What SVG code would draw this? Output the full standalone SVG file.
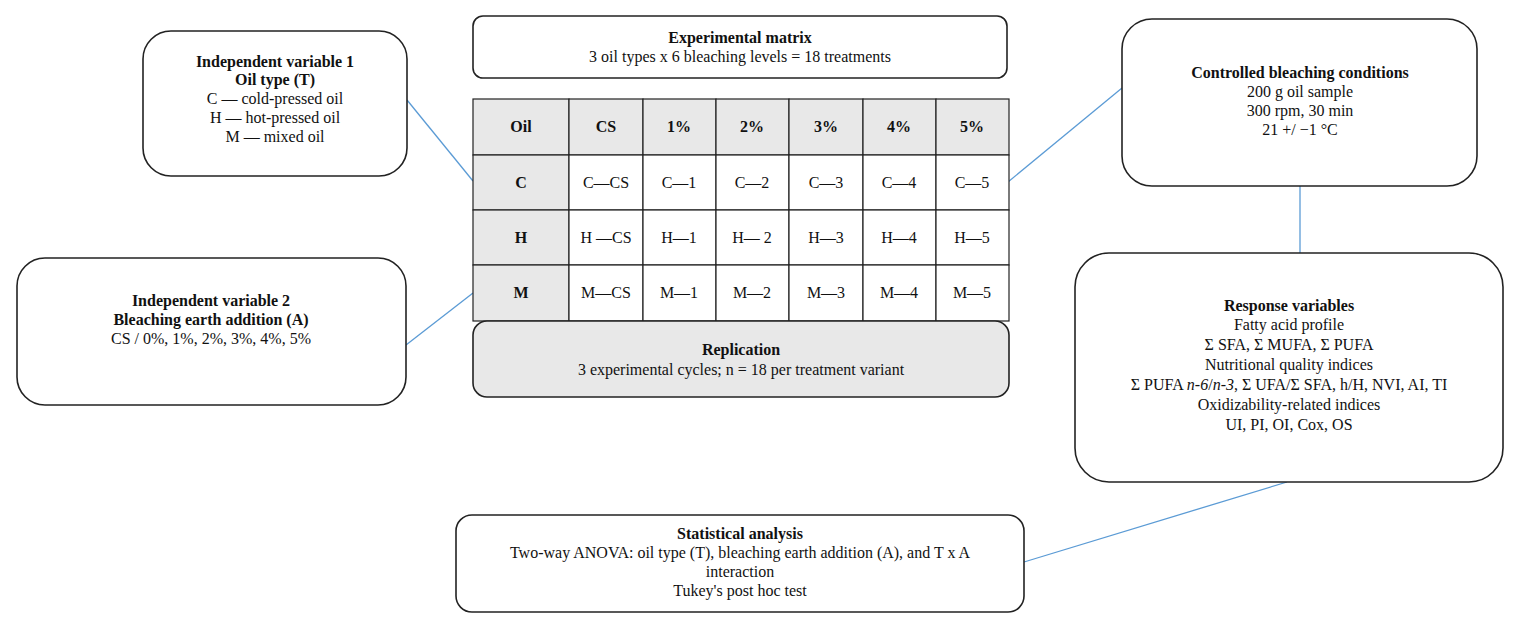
<svg xmlns="http://www.w3.org/2000/svg" width="1518" height="631" viewBox="0 0 1518 631">
<style>
text{font-family:'Liberation Serif','Times New Roman','DejaVu Serif',serif;font-size:16px;fill:#111;text-anchor:middle}
.b{font-weight:bold}
.box{fill:#fff;stroke:#222;stroke-width:1.6}
.gbox{fill:#e8e8e8;stroke:#222;stroke-width:1.6}
.cell{fill:#fff;stroke:#222;stroke-width:1.2}
.hcell{fill:#e8e8e8;stroke:#222;stroke-width:1.2}
.con{stroke:#5b9bd5;stroke-width:1.3;fill:none}
</style>
<rect width="1518" height="631" fill="#fff"/>
<g id="connectors">
<line class="con" x1="407" y1="100" x2="473" y2="181"/>
<line class="con" x1="406" y1="345" x2="473" y2="293"/>
<line class="con" x1="1008" y1="182" x2="1122" y2="88"/>
<line class="con" x1="1300" y1="186" x2="1300" y2="253"/>
<line class="con" x1="1287" y1="482" x2="1024" y2="562"/>
</g>
<g id="iv1">
<rect class="box" x="143" y="31" width="264" height="145" rx="28"/>
<text class="b" x="275" y="67">Independent variable 1</text>
<text class="b" x="275" y="85">Oil type (T)</text>
<text x="275" y="104">C — cold-pressed oil</text>
<text x="275" y="123">H — hot-pressed oil</text>
<text x="275" y="142">M — mixed oil</text>
</g>
<g id="iv2">
<rect class="box" x="17" y="258" width="389" height="147" rx="28"/>
<text class="b" x="211" y="306">Independent variable 2</text>
<text class="b" x="211" y="325">Bleaching earth addition (A)</text>
<text x="211" y="344">CS / 0%, 1%, 2%, 3%, 4%, 5%</text>
</g>
<g id="matrix">
<rect class="box" x="473" y="16" width="534" height="62" rx="10"/>
<text class="b" x="740" y="43">Experimental matrix</text>
<text x="740" y="62">3 oil types x 6 bleaching levels = 18 treatments</text>
</g>
<g id="table">
<rect class="hcell" x="473" y="99" width="96" height="56"/>
<rect class="hcell" x="569" y="99" width="74" height="56"/>
<rect class="hcell" x="643" y="99" width="73" height="56"/>
<rect class="hcell" x="716" y="99" width="73" height="56"/>
<rect class="hcell" x="789" y="99" width="74" height="56"/>
<rect class="hcell" x="863" y="99" width="73" height="56"/>
<rect class="hcell" x="936" y="99" width="73" height="56"/>
<rect class="hcell" x="473" y="155" width="96" height="55"/>
<rect class="hcell" x="473" y="210" width="96" height="55"/>
<rect class="hcell" x="473" y="265" width="96" height="56"/>
<g>
<rect class="cell" x="569" y="155" width="74" height="55"/><rect class="cell" x="643" y="155" width="73" height="55"/><rect class="cell" x="716" y="155" width="73" height="55"/><rect class="cell" x="789" y="155" width="74" height="55"/><rect class="cell" x="863" y="155" width="73" height="55"/><rect class="cell" x="936" y="155" width="73" height="55"/>
<rect class="cell" x="569" y="210" width="74" height="55"/><rect class="cell" x="643" y="210" width="73" height="55"/><rect class="cell" x="716" y="210" width="73" height="55"/><rect class="cell" x="789" y="210" width="74" height="55"/><rect class="cell" x="863" y="210" width="73" height="55"/><rect class="cell" x="936" y="210" width="73" height="55"/>
<rect class="cell" x="569" y="265" width="74" height="56"/><rect class="cell" x="643" y="265" width="73" height="56"/><rect class="cell" x="716" y="265" width="73" height="56"/><rect class="cell" x="789" y="265" width="74" height="56"/><rect class="cell" x="863" y="265" width="73" height="56"/><rect class="cell" x="936" y="265" width="73" height="56"/>
</g>
<text class="b" x="521" y="132">Oil</text><text class="b" x="606" y="132">CS</text><text class="b" x="679" y="132">1%</text><text class="b" x="752" y="132">2%</text><text class="b" x="826" y="132">3%</text><text class="b" x="899" y="132">4%</text><text class="b" x="972" y="132">5%</text>
<text class="b" x="521" y="188">C</text><text x="606" y="188">C—CS</text><text x="679" y="188">C—1</text><text x="752" y="188">C—2</text><text x="826" y="188">C—3</text><text x="899" y="188">C—4</text><text x="972" y="188">C—5</text>
<text class="b" x="521" y="243">H</text><text x="606" y="243">H —CS</text><text x="679" y="243">H—1</text><text x="752" y="243">H— 2</text><text x="826" y="243">H—3</text><text x="899" y="243">H—4</text><text x="972" y="243">H—5</text>
<text class="b" x="521" y="298">M</text><text x="606" y="298">M—CS</text><text x="679" y="298">M—1</text><text x="752" y="298">M—2</text><text x="826" y="298">M—3</text><text x="899" y="298">M—4</text><text x="972" y="298">M—5</text>
</g>
<g id="replication">
<rect class="gbox" x="473" y="321" width="536" height="76" rx="14"/>
<text class="b" x="741" y="355">Replication</text>
<text x="741" y="375">3 experimental cycles; n = 18 per treatment variant</text>
</g>
<g id="conditions">
<rect class="box" x="1122" y="19" width="355" height="167" rx="30"/>
<text class="b" x="1300" y="78">Controlled bleaching conditions</text>
<text x="1300" y="97">200 g oil sample</text>
<text x="1300" y="116">300 rpm, 30 min</text>
<text x="1300" y="135">21 +/ −1 °C</text>
</g>
<g id="response">
<rect class="box" x="1075" y="253" width="428" height="229" rx="34"/>
<text class="b" x="1289" y="311">Response variables</text>
<text x="1289" y="330">Fatty acid profile</text>
<text x="1289" y="350">Σ SFA, Σ MUFA, Σ PUFA</text>
<text x="1289" y="370">Nutritional quality indices</text>
<text x="1289" y="390">Σ PUFA <tspan font-style="italic">n-6</tspan>/<tspan font-style="italic">n-3</tspan>, Σ UFA/Σ SFA, h/H, NVI, AI, TI</text>
<text x="1289" y="410">Oxidizability-related indices</text>
<text x="1289" y="430">UI, PI, OI, Cox, OS</text>
</g>
<g id="stats">
<rect class="box" x="456" y="515" width="568" height="97" rx="16"/>
<text class="b" x="740" y="539">Statistical analysis</text>
<text x="740" y="558">Two-way ANOVA: oil type (T), bleaching earth addition (A), and T x A</text>
<text x="740" y="577">interaction</text>
<text x="740" y="596">Tukey's post hoc test</text>
</g>
</svg>
